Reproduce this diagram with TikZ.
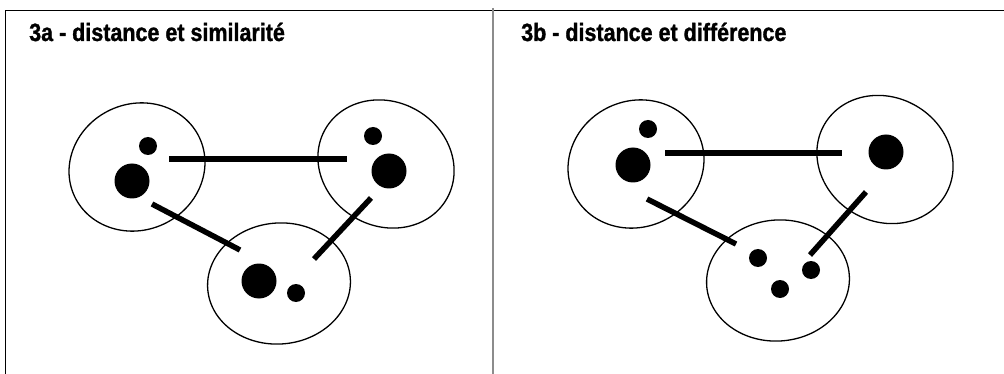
\documentclass[tikz,border=0pt]{standalone}
\usepackage{fontspec}
\setmainfont{Liberation Sans}
\newfontfamily\titlefont[FakeStretch=0.86, BoldFeatures={FakeBold=1.2}]{Liberation Sans}
\usetikzlibrary{shapes.geometric}
\tikzset{
  blob/.style={draw, ellipse, line width=1.3pt, inner sep=0pt},
  bigdot/.style={circle, fill=black, inner sep=0pt, minimum size=35pt},
  smalldot/.style={circle, fill=black, inner sep=0pt, minimum size=18pt},
  link/.style={line width=5.5pt},
  frame/.style={line width=1.2pt},
  divider/.style={line width=2pt, draw=black!45},
  title/.style={anchor=base west, inner sep=0pt, font=\titlefont\bfseries\fontsize{25}{30}\selectfont}
}
\begin{document}
\begin{tikzpicture}[x=1pt,y=-1pt]
\useasboundingbox (0,0) rectangle (1004,374);
% frame
\coordinate (fBL) at (5.5,374);
\coordinate (fTL) at (5.5,10.5);
\coordinate (fTR) at (1004,10.5);
\draw[frame] (fBL) -- (fTL) -- (fTR);
\coordinate (dT) at (492.5,8);
\coordinate (dB) at (492.5,374);
\draw[divider] (dT) -- (dB);
% titles
\node[title] (ta) at (29,41) {3a - distance et similarité};
\node[title] (tb) at (521,41) {3b - distance et différence};
% ---- panel a ----
\node[blob, minimum width=138pt, minimum height=126pt, rotate=25] (A) at (137,167) {};
\node[blob, minimum width=140pt, minimum height=124pt, rotate=-30] (B) at (386,164) {};
\node[blob, minimum width=143pt, minimum height=121pt, rotate=5] (C) at (279,283.5) {};
\node[smalldot] (a1) at (148,146) {};
\node[bigdot] (a2) at (132,181) {};
\node[smalldot] (b1) at (373,136) {};
\node[bigdot] (b2) at (389,171) {};
\node[bigdot] (c1) at (259,281) {};
\node[smalldot] (c2) at (296,293) {};
\coordinate (ab1) at (169,159);
\coordinate (ab2) at (347,159);
\coordinate (ac1) at (152,204);
\coordinate (ac2) at (240,250);
\coordinate (bc1) at (371,198);
\coordinate (bc2) at (314,259);
\draw[link] (ab1) -- (ab2);
\draw[link] (ac1) -- (ac2);
\draw[link] (bc1) -- (bc2);
% ---- panel b ----
\node[blob, minimum width=138pt, minimum height=126pt, rotate=25] (D) at (636,164) {};
\node[blob, minimum width=140pt, minimum height=124pt, rotate=-30] (E) at (885,159.5) {};
\node[blob, minimum width=143pt, minimum height=121pt, rotate=5] (F) at (778,280.5) {};
\node[smalldot] (d1) at (648,129) {};
\node[bigdot] (d2) at (633,165) {};
\node[bigdot] (e1) at (886,152) {};
\node[smalldot] (f1) at (758,258) {};
\node[smalldot] (f2) at (811,270) {};
\node[smalldot] (f3) at (780,289) {};
\coordinate (de1) at (665,153);
\coordinate (de2) at (842,153);
\coordinate (df1) at (647,199);
\coordinate (df2) at (736,244);
\coordinate (ef1) at (866,192);
\coordinate (ef2) at (810,255);
\draw[link] (de1) -- (de2);
\draw[link] (df1) -- (df2);
\draw[link] (ef1) -- (ef2);
\end{tikzpicture}
\end{document}
